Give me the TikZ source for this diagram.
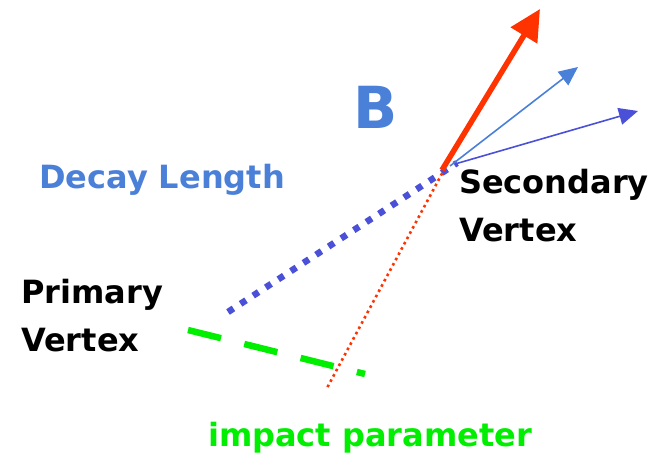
\documentclass[tikz,border=0pt]{standalone}
\usepackage{fontspec}
\setmainfont{DejaVu Sans}
\usetikzlibrary{arrows.meta}
\definecolor{trackred}{HTML}{FF3300}
\definecolor{lightblue}{HTML}{4A80D8}
\definecolor{darkblue}{HTML}{4A50D8}
\definecolor{ipgreen}{HTML}{00EE00}

\begin{document}
\begin{tikzpicture}[
  x=1pt, y=-1pt,
  label/.style={font=\bfseries\fontsize{32}{48}\selectfont, align=left, inner sep=0pt},
  track/.style={line width=1.6pt, -{Triangle[length=19pt,width=17pt]}},
  flight/.style={darkblue, line width=6.5pt, dash pattern=on 6.5pt off 8.5pt},
  backline/.style={trackred, line width=2.6pt, dash pattern=on 2.6pt off 3.4pt}
]
\useasboundingbox (0,0) rectangle (656,462);

\coordinate (pv) at (228,312);
\coordinate (sv) at (445,168);
\coordinate (ipa) at (188,330);
\coordinate (ipb) at (365,374);
\coordinate (redend) at (327,388);

% decay length and impact parameter
\draw[flight] (pv) -- (457,163);
\draw[backline] (sv) -- (redend);
\draw[ipgreen, line width=6.5pt, dash pattern=on 34pt off 24pt] (ipa) -- (ipb);

% tracks from the secondary vertex
\coordinate (redtip) at (540,9);
\coordinate (ltip) at (578,67);
\coordinate (dtip) at (638,111);
\draw[trackred, line width=5.5pt, -{Triangle[length=31pt,width=30pt]}] (442,170) -- (redtip);
\draw[track, lightblue] (450,166) -- (ltip);
\draw[track, darkblue] (455,164) -- (dtip);

% labels
\node[label, lightblue, font=\bfseries\fontsize{58}{60}\selectfont] (bmeson) at (376,107) {B};
\node[label, lightblue] (decay) at (162,180) {Decay Length};
\node[label, anchor=west] (primary) at (21,316) {Primary\\Vertex};
\node[label, anchor=west] (secondary) at (459,206) {Secondary\\Vertex};
\node[label, ipgreen] (impact) at (370,438) {impact parameter};
\end{tikzpicture}
\end{document}
